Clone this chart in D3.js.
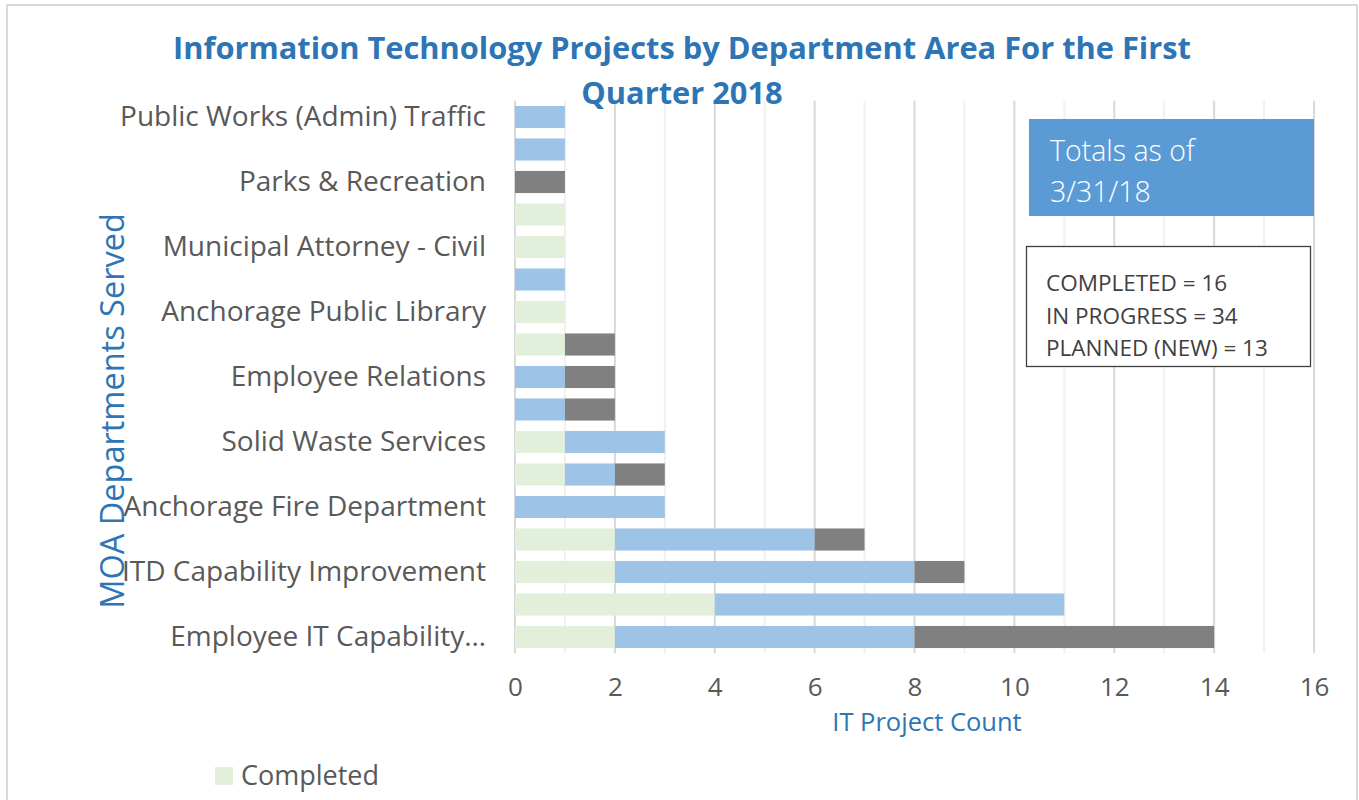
<!DOCTYPE html>
<html lang="en">
<head>
<meta charset="utf-8">
<title>IT Projects by Department Area</title>
<script src="https://cdn.jsdelivr.net/npm/d3@7"></script>
<style>
  body { margin: 0; background: #fff; }
  svg { display: block; font-family: "Open Sans", sans-serif; }
</style>
</head>
<body>
<script>
// rows top to bottom; Excel only shows every other label
var departments = ["Public Works (Admin) Traffic", "", "Parks & Recreation", "",
  "Municipal Attorney - Civil", "", "Anchorage Public Library", "",
  "Employee Relations", "", "Solid Waste Services", "",
  "Anchorage Fire Department", "", "ITD Capability Improvement", "",
  "Employee IT Capability\u2026"];
var seriesNames = ["Completed", "In Progress", "Planned (New)"];
var completed  = [0, 0, 0, 1, 1, 0, 1, 1, 0, 0, 1, 1, 0, 2, 2, 4, 2];
var inProgress = [1, 1, 0, 0, 0, 1, 0, 0, 1, 1, 2, 1, 3, 4, 6, 7, 6];
var planned    = [0, 0, 1, 0, 0, 0, 0, 1, 1, 1, 0, 1, 0, 1, 1, 0, 6];
var xTicks = [0, 2, 4, 6, 8, 10, 12, 14, 16];
var totalsLines = ["COMPLETED = 16", "IN PROGRESS = 34", "PLANNED (NEW) = 13"];

var w = 1359, h = 800;
var plotLeft = 515, plotRight = 1314, plotTop = 100.75, plotBottom = 653.25;
var colors = ["#e2efda", "#9dc3e6", "#808080"];
var textGray = "#595959", blue = "#2e75b6";

var svg = d3.select("body").append("svg").attr("width", w).attr("height", h);

// chart border
svg.append("rect").attr("x", 7).attr("y", 5).attr("width", 1350).attr("height", 820)
  .attr("fill", "#fff").attr("stroke", "#d9d9d9").attr("stroke-width", 2);

var x = d3.scaleLinear().domain([0, 16]).range([plotLeft, plotRight]);
var y = d3.scaleBand().domain(d3.range(departments.length)).range([plotTop, plotBottom])
  .paddingInner(0.32).paddingOuter(0.16);

// gridlines: minor every 1, major every 2
svg.append("g").selectAll("line").data(d3.range(0, 17)).enter().append("line")
  .attr("x1", function(d) { return x(d); }).attr("x2", function(d) { return x(d); })
  .attr("y1", plotTop).attr("y2", plotBottom)
  .attr("stroke", function(d) { return d % 2 === 0 ? "#d9d9d9" : "#f0f0f0"; })
  .attr("stroke-width", 2);

// stacked bars
var rows = departments.map(function(name, i) {
  return { i: i, vals: [completed[i], inProgress[i], planned[i]] };
});
var stack = d3.stack().keys([0, 1, 2]).value(function(d, k) { return d.vals[k]; });
var layers = stack(rows);

svg.append("g").selectAll("g").data(layers).enter().append("g")
  .attr("fill", function(d, k) { return colors[k]; })
  .selectAll("rect").data(function(d) { return d; }).enter().append("rect")
  .attr("x", function(d) { return x(d[0]); })
  .attr("y", function(d) { return y(d.data.i); })
  .attr("width", function(d) { return x(d[1]) - x(d[0]); })
  .attr("height", y.bandwidth());

// x axis labels
var xAxis = d3.axisBottom(x).tickValues(xTicks).tickSize(0).tickPadding(0);
var gx = svg.append("g").attr("transform", "translate(0," + 678 + ")").call(xAxis);
gx.select(".domain").remove();
gx.selectAll("text").attr("fill", textGray).style("font-size", "26px").style("font-family", "Open Sans");

// y labels
var yAxis = d3.axisLeft(y).tickFormat(function(i) { return departments[i]; }).tickSize(0).tickPadding(29);
var gy = svg.append("g").attr("transform", "translate(" + plotLeft + ",0)").call(yAxis);
gy.select(".domain").remove();
gy.selectAll("text").attr("fill", textGray).style("font-size", "28px").style("font-family", "Open Sans");

// titles
var title = svg.append("text").attr("text-anchor", "middle").attr("fill", blue)
  .style("font-size", "30.8px").style("font-weight", "bold");
title.append("tspan").attr("x", 682).attr("y", 59).text("Information Technology Projects by Department Area For the First");
title.append("tspan").attr("x", 682).attr("y", 104).text("Quarter 2018");

svg.append("text").attr("x", 927).attr("y", 731).attr("text-anchor", "middle")
  .attr("fill", blue).style("font-size", "25.5px").text("IT Project Count");

svg.append("text").attr("transform", "translate(124,411) rotate(-90)").attr("text-anchor", "middle")
  .attr("fill", blue).style("font-size", "32.5px").text("MOA Departments Served");

// totals boxes
svg.append("rect").attr("x", 1029).attr("y", 119).attr("width", 285).attr("height", 97).attr("fill", "#5b9bd5");
svg.append("text").attr("x", 1050).attr("y", 161).attr("fill", "#fff")
  .style("font-size", "28.5px").style("font-weight", 300).text("Totals as of");
svg.append("text").attr("x", 1050).attr("y", 202).attr("fill", "#fff")
  .style("font-size", "28.5px").style("font-weight", 300).text("3/31/18");

svg.append("rect").attr("x", 1026.5).attr("y", 246.5).attr("width", 284).attr("height", 120)
  .attr("fill", "#fff").attr("stroke", "#404040").attr("stroke-width", 1.3);
svg.append("g").selectAll("text").data(totalsLines).enter().append("text")
  .attr("x", 1046).attr("y", function(d, i) { return 291 + i * 32.5; })
  .attr("fill", "#404040").style("font-size", "22.5px").text(function(d) { return d; });

// legend: only the first entry fits inside the picture
var legend = svg.append("g").selectAll("g").data(seriesNames.slice(0, 1)).enter().append("g")
  .attr("transform", function(d, i) { return "translate(215," + (767 + i * 40) + ")"; });
legend.append("rect").attr("width", 18).attr("height", 18).attr("fill", function(d, i) { return colors[i]; });
legend.append("text").attr("x", 26).attr("y", 9).attr("dy", "0.35em")
  .attr("fill", textGray).style("font-size", "27px").text(function(d) { return d; });
</script>
</body>
</html>
